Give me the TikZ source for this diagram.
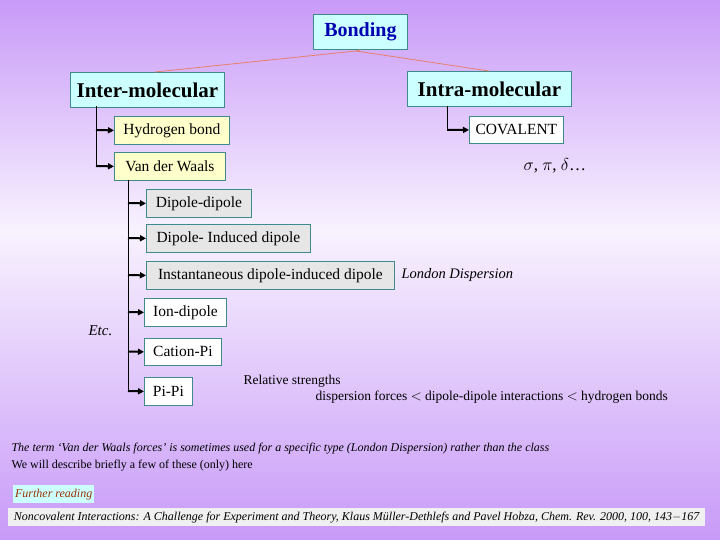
\documentclass[tikz,border=0pt]{standalone}
\usepackage{fontspec}
\setmainfont{Liberation Serif}
\usetikzlibrary{arrows.meta}
\definecolor{bgp}{HTML}{C89AF8}
\definecolor{bgl}{HTML}{F8F2FE}
\definecolor{bord}{HTML}{3F8A8A}
\definecolor{cyanf}{HTML}{CCFFFF}
\definecolor{yelf}{HTML}{FFFFCC}
\definecolor{grayf}{HTML}{E6E6E6}
\definecolor{salmon}{HTML}{E8806A}
\definecolor{frtext}{HTML}{993300}
\tikzset{
 bx/.style={draw=bord, line width=0.8pt, inner sep=0pt, anchor=north west, font=\fontsize{15.5}{18}\selectfont},
 top/.style={bx, fill=cyanf, font=\fontsize{21}{24}\selectfont\bfseries},
 conn/.style={salmon, line width=0.8pt},
 tr/.style={black, line width=1pt},
 ar/.style={black, line width=2pt, -{Triangle[length=6pt,width=6pt]}},
}
\begin{document}
\begin{tikzpicture}[x=1pt,y=-1pt]
\useasboundingbox (0,0) rectangle (720,540);
\shade[top color=bgp, bottom color=bgl] (0,0) rectangle (720,230);
\shade[top color=bgl, bottom color=bgp] (0,230) rectangle (720,540);
% boxes
\node[top, text=blue!70!black, minimum width=94pt, minimum height=35pt, font=\fontsize{20}{24}\selectfont\bfseries] (bond) at (313,14) {Bonding};
\node[top, minimum width=154pt, minimum height=35pt] (inter) at (70,72) {Inter-molecular};
\node[top, minimum width=164pt, minimum height=35pt] (intra) at (407,71) {Intra-molecular};
\node[bx, fill=yelf, minimum width=115pt, minimum height=28pt] (hyd) at (114,116) {Hydrogen bond};
\node[bx, fill=yelf, minimum width=111pt, minimum height=28pt] (vdw) at (114,152) {Van der Waals};
\node[bx, fill=white, minimum width=94pt, minimum height=27pt] (cov) at (469,116) {COVALENT};
\node[anchor=west, font=\fontsize{17}{20}\selectfont] (spd) at (520,166) {$\sigma$, $\pi$, $\delta$\dots};
\node[bx, fill=grayf, minimum width=105pt, minimum height=28pt] (dd) at (146,189) {Dipole-dipole};
\node[bx, fill=grayf, minimum width=164pt, minimum height=28pt] (did) at (146,224) {Dipole- Induced dipole};
\node[bx, fill=grayf, minimum width=248pt, minimum height=28pt] (inst) at (146,261) {Instantaneous dipole-induced dipole};
\node[anchor=west, font=\fontsize{14.5}{16}\selectfont\itshape] (lon) at (398,275) {London Dispersion};
\node[bx, fill=white, minimum width=82pt, minimum height=28pt] (ion) at (144,298) {Ion-dipole};
\node[bx, fill=white, minimum width=77pt, minimum height=27pt] (cat) at (144,338) {Cation-Pi};
\node[bx, fill=white, minimum width=48pt, minimum height=28pt] (pipi) at (144,377) {Pi-Pi};
\node[anchor=west, font=\fontsize{15}{18}\selectfont\itshape] (etc) at (85,331) {Etc.};
\node[anchor=west, font=\fontsize{13.5}{15}\selectfont] (rel) at (240,381) {Relative strengths};
\node[anchor=west, font=\fontsize{13.5}{15}\selectfont] (disp) at (312,397) {dispersion forces $<$ dipole-dipole interactions $<$ hydrogen bonds};
\node[anchor=west, font=\fontsize{12}{14}\selectfont\itshape] (t1) at (8,449) {The term `Van der Waals forces' is sometimes used for a specific type (London Dispersion) rather than the class};
\node[anchor=west, font=\fontsize{12}{14}\selectfont] (t2) at (8,466) {We will describe briefly a few of these (only) here};
\node[anchor=north west, fill=cyanf, inner sep=1pt, minimum width=81pt, minimum height=18pt, text=frtext, font=\fontsize{12}{14}\selectfont\itshape] (fr) at (13,485) {Further reading};
\node[anchor=north west, fill=gray!12, inner sep=2pt, minimum width=697pt, minimum height=18pt, font=\fontsize{12}{14}\selectfont\itshape] (ref) at (8,508) {Noncovalent Interactions: A Challenge for Experiment and Theory, Klaus Müller-Dethlefs and Pavel Hobza, Chem. Rev. 2000, 100, 143$-$167};
% connectors
\coordinate (bc) at (356,51);
\draw[conn] (bond.south) -- (bc);
\draw[conn] (bc) -- (155,72);
\draw[conn] (bc) -- (489,71);
\draw[tr] (96,106) -- (96,166);
\draw[ar] (96,130) -- (hyd.west);
\draw[ar] (96,166) -- (vdw.west);
\draw[tr] (447,106) -- (447,130);
\draw[ar] (447,130) -- (cov.west);
\draw[tr] (128,180) -- (128,391);
\draw[ar] (128,203) -- (dd.west);
\draw[ar] (128,238) -- (did.west);
\draw[ar] (128,275) -- (inst.west);
\draw[ar] (128,312) -- (ion.west);
\draw[ar] (128,351.5) -- (cat.west);
\draw[ar] (128,391) -- (pipi.west);
\end{tikzpicture}
\end{document}
